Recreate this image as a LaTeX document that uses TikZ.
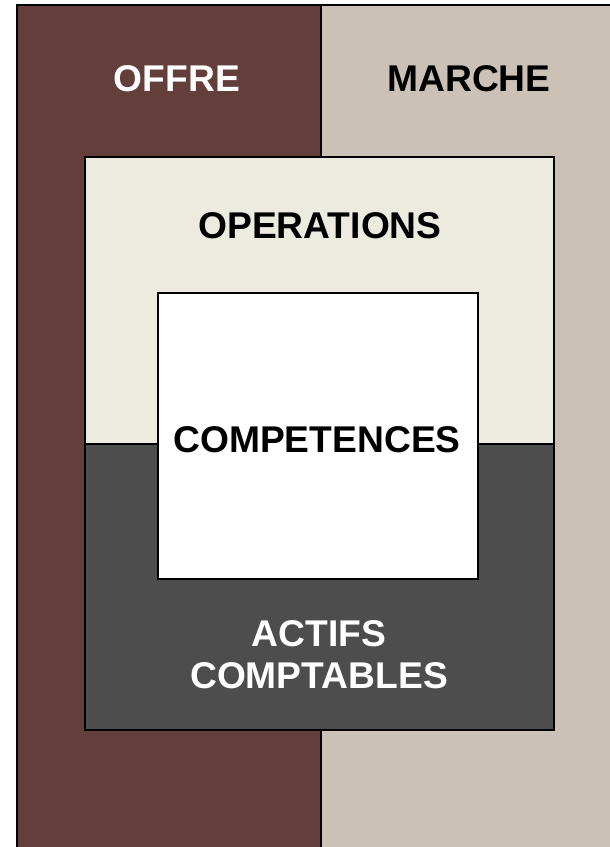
\documentclass[tikz,border=0pt]{standalone}
\usepackage{fontspec}
\setmainfont{Liberation Sans}
\definecolor{offre}{RGB}{99,62,59}
\definecolor{marche}{RGB}{204,193,182}
\definecolor{ops}{RGB}{237,234,223}
\definecolor{actifs}{RGB}{77,77,77}
\tikzset{
  lbl/.style={font=\fontsize{37.2}{42}\selectfont\bfseries, align=center, inner sep=0pt},
  edge/.style={draw=black, line width=2.2pt}
}
\begin{document}
\begin{tikzpicture}[x=1pt,y=-1pt]
\useasboundingbox (0,0) rectangle (610,847);
% outer columns
\fill[offre] (17,5) rectangle (321,852);
\fill[marche] (321,5) rectangle (615,852);
\draw[edge] (17,852) -- (17,5) -- (615,5);
\draw[edge] (321,5) -- (321,852);
% inner box
\fill[ops] (85,157) rectangle (554,444);
\fill[actifs] (85,444) rectangle (554,730);
\draw[edge] (85,157) rectangle (554,730);
\draw[edge] (85,444) -- (554,444);
% core
\node[fill=white, draw=black, line width=2.2pt, minimum width=320pt, minimum height=286pt, inner sep=0pt] (comp) at (318,436) {};
% labels
\node[lbl, text=white] (offreT) at (177,79) {OFFRE};
\node[lbl, text=black] (marcheT) at (469,79) {MARCHE};
\node[lbl, text=black] (opsT) at (320,226) {OPERATIONS};
\node[lbl, text=black] (compT) at (317,440) {COMPETENCES};
\node[lbl, text=white] (actT) at (319,655) {ACTIFS\\COMPTABLES};
\end{tikzpicture}
\end{document}
